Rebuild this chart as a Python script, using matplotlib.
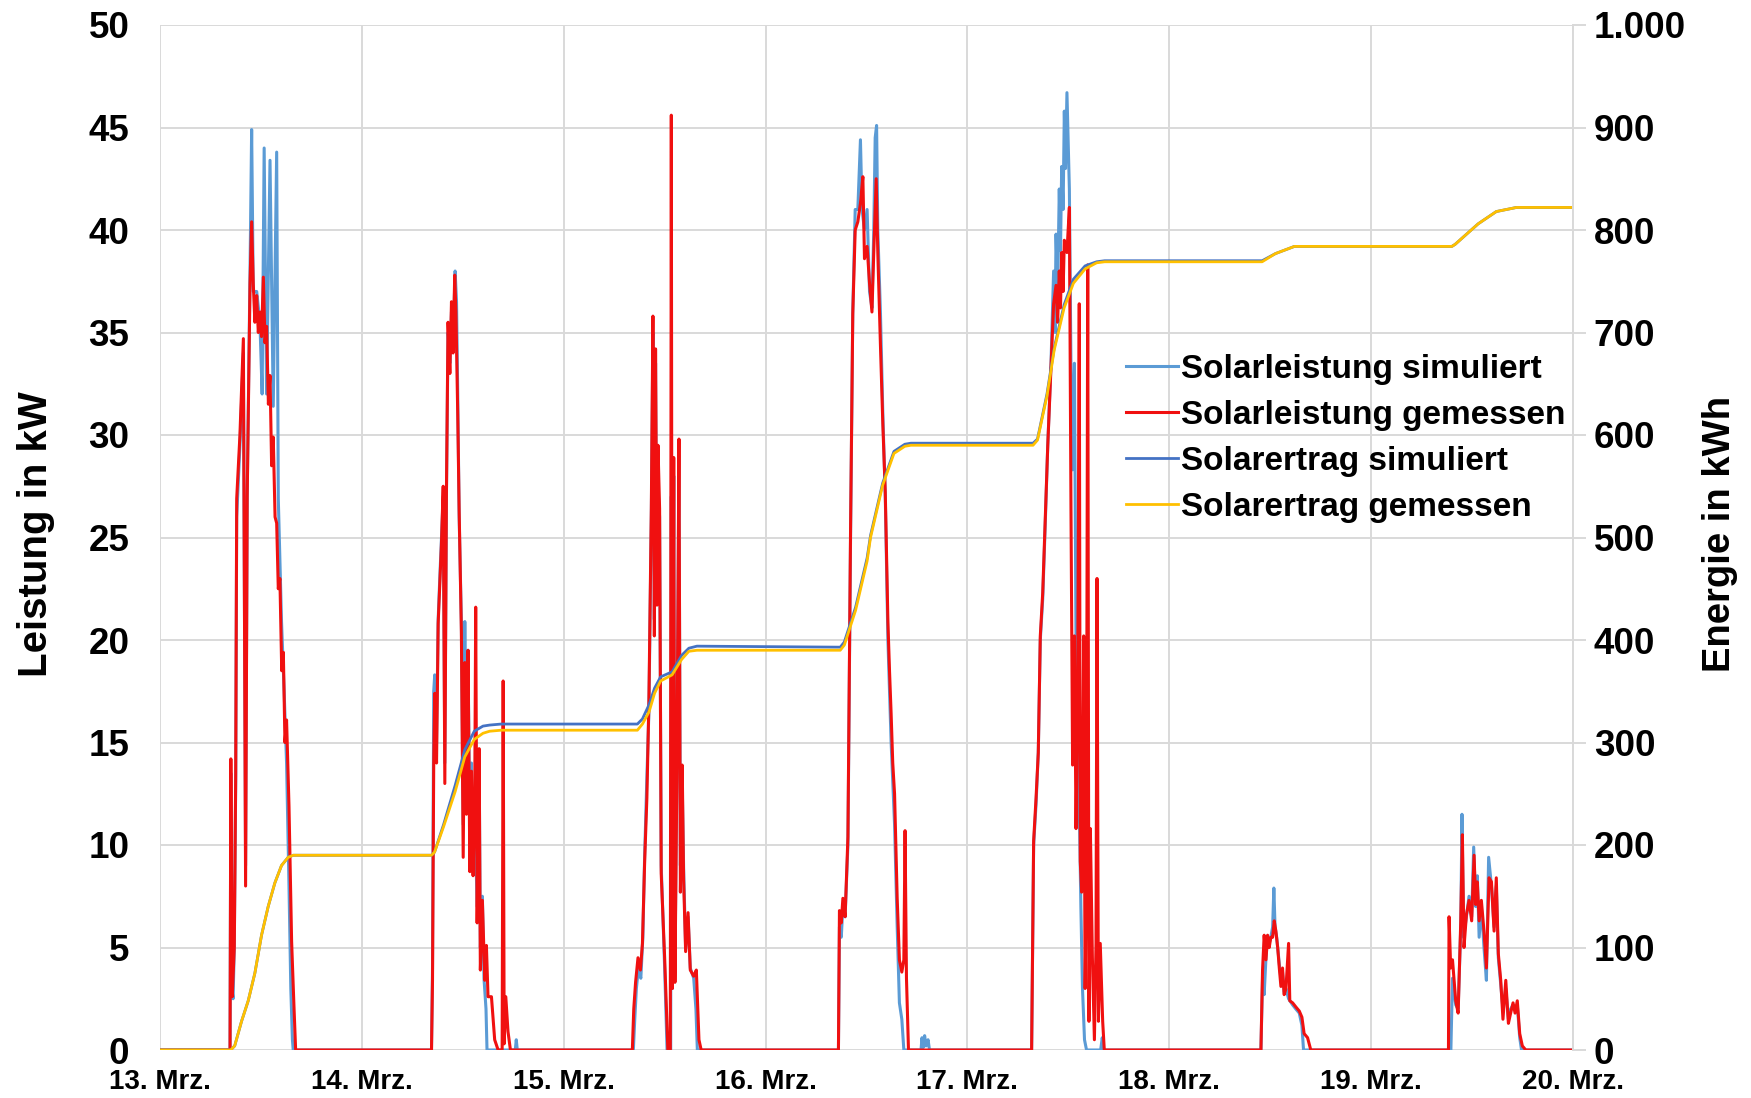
import matplotlib
matplotlib.use('Agg')
import matplotlib.pyplot as plt
from matplotlib.lines import Line2D

plt.rcParams['font.family'] = ['Liberation Sans', 'DejaVu Sans']
plt.rcParams['font.weight'] = 'bold'

# x axis: days since 13. Mrz. 0:00
tage = ['13. Mrz.', '14. Mrz.', '15. Mrz.', '16. Mrz.', '17. Mrz.', '18. Mrz.', '19. Mrz.', '20. Mrz.']
kw_ticks = [0, 5, 10, 15, 20, 25, 30, 35, 40, 45, 50]
kwh_labels = ['0', '100', '200', '300', '400', '500', '600', '700', '800', '900', '1.000']

# Solarleistung gemessen (kW)
t_mess = [0.0,
          0.347, 0.351, 0.358, 0.368, 0.375, 0.380, 0.396, 0.413, 0.424, 0.432, 0.446, 0.454, 0.462, 0.470,
          0.479, 0.487, 0.495, 0.503, 0.512, 0.520, 0.528, 0.537, 0.545, 0.553, 0.561, 0.570, 0.578, 0.586,
          0.594, 0.603, 0.611, 0.619, 0.627, 0.639, 0.652, 0.663, 0.672,
          1.345, 1.350, 1.356, 1.361, 1.370, 1.378, 1.386, 1.394, 1.403, 1.411, 1.419, 1.427, 1.436, 1.444,
          1.452, 1.460, 1.466, 1.475, 1.482, 1.493, 1.502, 1.510, 1.518, 1.526, 1.535, 1.543, 1.551, 1.559,
          1.564, 1.571, 1.581, 1.587, 1.597, 1.609, 1.617, 1.625, 1.642, 1.658, 1.675, 1.695, 1.700, 1.705,
          1.713, 1.724, 1.736,
          2.340, 2.347, 2.356, 2.368, 2.380, 2.390, 2.401, 2.412, 2.422, 2.434, 2.442, 2.449, 2.455, 2.462,
          2.467, 2.475, 2.483, 2.500, 2.516, 2.528, 2.533, 2.538, 2.545, 2.551, 2.561, 2.571, 2.578, 2.587,
          2.594, 2.604, 2.616, 2.627, 2.644, 2.657, 2.670, 2.681,
          3.361, 3.366, 3.375, 3.383, 3.394, 3.408, 3.421, 3.432, 3.444, 3.457, 3.470, 3.482, 3.490, 3.503,
          3.515, 3.527, 3.536, 3.548, 3.556, 3.569, 3.581, 3.593, 3.606, 3.614, 3.622, 3.630, 3.639, 3.652,
          3.663, 3.675, 3.685, 3.691, 3.698, 3.708,
          4.318, 4.328, 4.340, 4.351, 4.361, 4.373, 4.385, 4.398, 4.414, 4.427, 4.439, 4.447, 4.455, 4.461,
          4.467, 4.474, 4.480, 4.493, 4.505, 4.513, 4.521, 4.530, 4.538, 4.546, 4.554, 4.559, 4.566, 4.576,
          4.583, 4.589, 4.596, 4.602, 4.609, 4.619, 4.629, 4.637, 4.642, 4.649, 4.658, 4.670, 4.678,
          5.454, 5.462, 5.470, 5.479, 5.487, 5.495, 5.503, 5.512, 5.520, 5.528, 5.537, 5.545, 5.553, 5.561,
          5.569, 5.578, 5.591, 5.597, 5.611, 5.627, 5.644, 5.657, 5.668, 5.685, 5.701,
          6.383, 6.386, 6.394, 6.403, 6.419, 6.431, 6.444, 6.452, 6.460, 6.472, 6.485, 6.498, 6.510, 6.518,
          6.526, 6.535, 6.546, 6.559, 6.571, 6.584, 6.596, 6.609, 6.620, 6.630, 6.642, 6.653, 6.667, 6.680,
          6.691, 6.703, 6.713, 6.724, 6.736, 6.749, 6.766,
          7.0]
p_mess = [0.0,
          0.0, 14.2, 2.6, 5.0, 13.4, 26.9, 30.0, 34.7, 8.0, 27.0, 37.4, 40.4, 37.4, 35.5,
          36.8, 35.0, 36.0, 34.8, 37.7, 34.5, 35.3, 31.5, 32.9, 28.5, 29.9, 26.0, 25.7, 22.5,
          23.0, 18.5, 19.4, 15.0, 16.1, 11.9, 5.3, 2.3, 0.0,
          0.0, 3.4, 14.0, 17.4, 14.0, 20.8, 22.7, 24.6, 27.5, 13.0, 27.2, 35.5, 33.0, 36.5,
          34.0, 37.8, 36.0, 31.0, 26.3, 20.4, 9.4, 18.9, 11.5, 19.5, 8.7, 13.6, 8.5, 12.0,
          21.6, 6.2, 14.7, 3.9, 7.3, 3.4, 5.1, 2.6, 2.6, 0.5, 0.0, 0.0, 18.0, 0.3,
          2.6, 0.9, 0.0,
          0.0, 2.0, 3.3, 4.5, 3.9, 5.2, 9.2, 12.3, 17.0, 26.4, 35.8, 20.2, 34.2, 21.7,
          29.5, 26.4, 8.6, 4.5, 0.0, 0.0, 45.6, 3.0, 28.9, 3.3, 13.9, 29.8, 7.7, 13.9,
          8.3, 4.8, 6.7, 3.9, 3.6, 3.9, 0.5, 0.0,
          0.0, 6.8, 6.2, 7.4, 6.5, 10.4, 25.4, 35.9, 40.0, 40.4, 41.3, 42.6, 38.6, 39.2,
          37.4, 36.0, 38.9, 42.5, 38.9, 34.4, 30.5, 27.2, 20.9, 18.5, 16.4, 14.0, 12.5, 7.4,
          4.4, 3.8, 4.4, 10.7, 3.5, 0.0,
          0.0, 10.2, 12.3, 14.5, 20.2, 22.3, 25.8, 29.5, 33.3, 36.4, 37.3, 35.5, 38.0, 36.2,
          38.9, 37.0, 39.5, 38.9, 41.1, 26.4, 13.9, 20.2, 10.8, 17.0, 36.4, 9.2, 7.7, 20.2,
          3.0, 7.7, 38.3, 1.4, 10.8, 4.5, 0.5, 5.2, 23.0, 1.4, 5.2, 1.4, 0.0,
          0.0, 3.9, 5.6, 4.4, 5.6, 5.0, 5.5, 5.5, 6.3, 5.8, 5.0, 4.0, 3.1, 4.0,
          2.7, 3.0, 5.2, 2.4, 2.3, 2.1, 1.9, 1.6, 0.8, 0.6, 0.0,
          0.0, 6.5, 4.0, 4.4, 2.4, 1.8, 6.3, 10.5, 5.0, 6.6, 7.3, 6.3, 9.5, 7.1,
          8.2, 6.3, 7.3, 5.8, 4.0, 8.4, 8.2, 5.8, 8.4, 4.7, 3.4, 1.5, 3.4, 1.3,
          1.8, 2.3, 1.8, 2.4, 0.8, 0.2, 0.0,
          0.0]

# Solarleistung simuliert (kW)
t_sim = [0.0,
         0.347, 0.351, 0.356, 0.362, 0.368, 0.375, 0.380, 0.396, 0.413, 0.424, 0.432, 0.446, 0.454, 0.462,
         0.479, 0.495, 0.506, 0.516, 0.528, 0.545, 0.561, 0.578, 0.586, 0.602, 0.615, 0.627, 0.639, 0.648,
         0.656, 0.660,
         1.345, 1.350, 1.356, 1.361, 1.370, 1.378, 1.386, 1.403, 1.411, 1.419, 1.427, 1.436, 1.444, 1.452,
         1.462, 1.469, 1.475, 1.482, 1.493, 1.502, 1.510, 1.518, 1.526, 1.535, 1.543, 1.551, 1.559, 1.571,
         1.581, 1.587, 1.597, 1.605, 1.615, 1.620, 1.760, 1.765, 1.770,
         2.345, 2.352, 2.360, 2.370, 2.382, 2.392, 2.401, 2.412, 2.422, 2.434, 2.442, 2.449, 2.455, 2.462,
         2.467, 2.475, 2.483, 2.500, 2.512, 2.530, 2.533, 2.538, 2.545, 2.551, 2.561, 2.571, 2.578, 2.587,
         2.594, 2.604, 2.616, 2.627, 2.644, 2.655, 2.662,
         3.361, 3.366, 3.375, 3.383, 3.394, 3.408, 3.421, 3.432, 3.444, 3.457, 3.470, 3.478, 3.490, 3.503,
         3.515, 3.527, 3.536, 3.543, 3.550, 3.556, 3.569, 3.581, 3.593, 3.606, 3.622, 3.639, 3.652, 3.663,
         3.675, 3.685, 3.770, 3.775, 3.780, 3.788, 3.795, 3.805, 3.812,
         4.318, 4.328, 4.340, 4.351, 4.361, 4.373, 4.385, 4.398, 4.414, 4.427, 4.434, 4.439, 4.447, 4.455,
         4.461, 4.467, 4.474, 4.480, 4.486, 4.493, 4.500, 4.505, 4.513, 4.521, 4.530, 4.538, 4.546, 4.554,
         4.562, 4.570, 4.580, 4.590, 4.660, 4.668, 4.675,
         5.454, 5.462, 5.470, 5.479, 5.487, 5.495, 5.503, 5.512, 5.518, 5.524, 5.532, 5.545, 5.553, 5.561,
         5.569, 5.578, 5.591, 5.611, 5.627, 5.644, 5.657, 5.665,
         6.395, 6.403, 6.419, 6.431, 6.444, 6.450, 6.458, 6.472, 6.485, 6.498, 6.508, 6.518, 6.526, 6.535,
         6.546, 6.559, 6.571, 6.582, 6.596, 6.609, 6.620, 6.630, 6.642, 6.653, 6.667, 6.680, 6.691, 6.703,
         6.713, 6.724, 6.736, 6.745,
         7.0]
p_sim = [0.0,
         0.0, 13.5, 3.0, 2.5, 5.0, 13.0, 26.0, 29.5, 34.0, 9.0, 27.0, 38.0, 44.9, 37.0,
         37.0, 35.5, 32.0, 44.0, 32.0, 43.4, 31.4, 43.8, 26.9, 20.9, 17.5, 14.0, 8.0, 3.0,
         0.5, 0.0,
         0.0, 4.0, 17.5, 18.3, 15.0, 21.0, 23.0, 27.0, 14.0, 27.0, 35.0, 33.5, 36.0, 34.5,
         38.0, 36.5, 32.0, 26.0, 20.9, 11.0, 20.9, 13.0, 19.5, 10.0, 14.0, 9.0, 12.0, 7.0,
         14.5, 5.0, 7.5, 3.5, 2.0, 0.0, 0.0, 0.5, 0.0,
         0.0, 1.5, 3.0, 4.0, 3.5, 5.5, 9.5, 13.3, 16.5, 26.0, 35.0, 21.0, 33.5, 22.0,
         27.5, 26.0, 9.0, 4.0, 0.0, 0.0, 27.0, 3.0, 28.0, 4.0, 14.0, 29.0, 9.0, 13.0,
         8.9, 5.0, 6.5, 4.0, 3.5, 2.0, 0.0,
         0.0, 6.0, 5.5, 7.0, 6.5, 10.0, 25.0, 36.0, 41.0, 41.0, 44.4, 41.0, 40.0, 41.0,
         37.0, 36.2, 40.0, 44.5, 45.1, 40.0, 36.0, 31.0, 27.0, 20.0, 15.0, 11.0, 6.0, 2.3,
         1.5, 0.0, 0.0, 0.6, 0.1, 0.7, 0.2, 0.5, 0.0,
         0.0, 10.0, 12.0, 14.5, 20.0, 22.0, 25.5, 29.5, 33.5, 38.0, 35.0, 39.8, 37.0, 42.0,
         39.0, 43.1, 41.0, 45.8, 43.0, 46.7, 44.0, 42.0, 33.3, 28.3, 33.5, 20.0, 17.0, 12.0,
         7.0, 3.0, 0.5, 0.0, 0.0, 0.6, 0.0,
         0.0, 3.5, 2.7, 4.5, 5.5, 5.2, 5.5, 6.0, 7.9, 6.0, 5.5, 4.2, 3.5, 3.8,
         2.8, 3.0, 2.5, 2.2, 2.0, 1.8, 1.2, 0.0,
         0.0, 3.5, 2.2, 2.0, 6.0, 11.5, 5.5, 6.5, 7.5, 6.5, 9.9, 7.0, 8.5, 5.5,
         7.0, 5.0, 3.4, 9.4, 8.0, 6.0, 8.0, 4.5, 3.2, 2.0, 3.0, 1.5, 2.0, 2.2,
         2.0, 2.2, 0.6, 0.0,
         0.0]

# Solarertrag (kWh), kumuliert
t_ertrag = [0.0, 0.350, 0.370, 0.404, 0.437, 0.470, 0.503, 0.536, 0.569, 0.602, 0.635, 0.660,
            1.345, 1.360, 1.405, 1.462, 1.510, 1.557, 1.600, 1.633, 1.690,
            2.365, 2.390, 2.423, 2.450, 2.480, 2.537, 2.584, 2.620, 2.660,
            3.370, 3.390, 3.446, 3.503, 3.520, 3.580, 3.636, 3.690, 3.720,
            4.325, 4.347, 4.394, 4.430, 4.479, 4.525, 4.583, 4.640, 4.680,
            5.460, 5.526, 5.620, 5.660,
            6.400, 6.416, 6.530, 6.620, 6.720, 7.0]
e_mess = [0, 0, 4, 28, 48, 75, 112, 140, 163, 180, 188, 190,
          190, 193, 218, 252, 286, 303, 309, 311, 312,
          312, 318, 330, 348, 360, 366, 381, 389, 390,
          390, 395, 429, 477, 500, 551, 582, 589, 590,
          590, 595, 638, 683, 724, 748, 762, 768, 769,
          769, 777, 784, 784,
          784, 786, 806, 818, 822, 822]
e_sim = [0, 0, 4, 28, 48, 75, 112, 140, 163, 180, 188, 190,
         190, 193, 220, 258, 293, 311, 316, 317, 318,
         318, 323, 337, 353, 364, 369, 385, 392, 394,
         393, 398, 432, 480, 502, 553, 584, 591, 592,
         592, 596, 640, 685, 727, 752, 765, 769, 770,
         770, 777, 784, 784,
         784, 786, 806, 818, 822, 822]

c_sim_kw = '#5B9BD5'
c_mess_kw = '#F01010'
c_sim_e = '#4472C4'
c_mess_e = '#FFC000'
grid_c = '#D9D9D9'

fig = plt.figure(figsize=(17.51, 10.98), dpi=100)
ax = fig.add_axes([160 / 1751, 1 - 1050 / 1098, 1413 / 1751, 1025 / 1098])
ax2 = ax.twinx()

ax.plot(t_sim, p_sim, color=c_sim_kw, lw=2.2, zorder=3)
ax.plot(t_mess, p_mess, color=c_mess_kw, lw=2.2, zorder=4)
ax2.plot(t_ertrag, e_sim, color=c_sim_e, lw=2.0)
ax2.plot(t_ertrag, e_mess, color=c_mess_e, lw=2.0)

ax.set_xlim(0, 7)
ax.set_ylim(0, 50)
ax2.set_ylim(0, 1000)

ax.set_xticks(range(len(tage)))
ax.set_xticklabels(tage, fontsize=20, fontweight='bold')
ax.set_yticks(kw_ticks)
ax.set_yticklabels([str(v) for v in kw_ticks], fontsize=26.5, fontweight='bold')
ax2.set_yticks(range(0, 1001, 100))
ax2.set_yticklabels(kwh_labels, fontsize=26.5, fontweight='bold')

ax.grid(True, color=grid_c, lw=1.4)
ax.set_axisbelow(True)
ax.tick_params(axis='x', length=0, pad=14)
ax.tick_params(axis='y', length=0, pad=22)
ax2.tick_params(axis='y', length=9, width=1.4, color=grid_c, pad=6)

for s in ['top', 'bottom', 'left']:
    ax.spines[s].set_visible(False)
    ax2.spines[s].set_visible(False)
ax.spines['right'].set_visible(False)
ax2.spines['right'].set_color(grid_c)
ax2.spines['right'].set_linewidth(1.4)

fig.text(36 / 1751, 1 - 534 / 1098, 'Leistung in kW', rotation=90, ha='center', va='center',
         fontsize=29, fontweight='bold')
fig.text(1720 / 1751, 1 - 534 / 1098, 'Energie in kWh', rotation=90, ha='center', va='center',
         fontsize=27.5, fontweight='bold')

handles = [Line2D([], [], color=c_sim_kw, lw=2.2),
           Line2D([], [], color=c_mess_kw, lw=2.2),
           Line2D([], [], color=c_sim_e, lw=2.0),
           Line2D([], [], color=c_mess_e, lw=2.0)]
labels = ['Solarleistung simuliert', 'Solarleistung gemessen', 'Solarertrag simuliert', 'Solarertrag gemessen']
ax2.legend(handles, labels, loc='upper left', bbox_to_anchor=(0.684, 0.679), frameon=False,
           fontsize=24, handlelength=1.55, handletextpad=0.1, labelspacing=0.45,
           borderaxespad=0, borderpad=0)

fig.savefig('out.png', dpi=100)
